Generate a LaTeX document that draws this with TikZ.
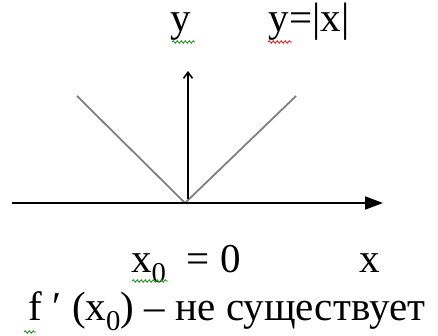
\documentclass[tikz,border=0pt]{standalone}
\usepackage{fontspec}
\setmainfont{Liberation Serif}
\usetikzlibrary{arrows.meta,decorations.pathmorphing}
\definecolor{vgray}{RGB}{128,128,128}
\definecolor{spgreen}{RGB}{40,150,40}
\definecolor{spred}{RGB}{230,40,40}
\tikzset{
  lbl/.style={anchor=base,inner sep=0pt,font=\fontsize{41}{45}\selectfont},
  axis/.style={line width=1.8pt,black},
  vline/.style={line width=1.8pt,vgray},
  squig/.style={line width=0.9pt,decorate,decoration={snake,amplitude=1.2pt,segment length=4pt}}
}
\begin{document}
\begin{tikzpicture}[x=1pt,y=-1pt]
\useasboundingbox (0,0) rectangle (438,336);
% axes
\coordinate (xs) at (12,203);
\coordinate (xe) at (383,203);
\coordinate (ys) at (188,199);
\coordinate (ye) at (188,71);
\coordinate (o) at (185,203);
\coordinate (vl) at (77,96);
\coordinate (vr) at (296,96);
\draw[vline] (vl) -- (o) -- (vr);
\draw[axis,-{Triangle[length=18pt,width=13pt]}] (xs) -- (xe);
\draw[axis,-{Straight Barb[length=6pt,width=9pt,line width=1.6pt]}] (ys) -- (ye);
% labels
\node[lbl] (ylab) at (181,32) {y};
\node[lbl] (flab) at (309,32) {y=|x|};
\node[lbl] (x0lab) at (186,272) {x\textsubscript{0}\ \ = 0};
\node[lbl] (xlab) at (370,272) {x};
\node[lbl] (dlab) at (227,320) {f ′ (x\textsubscript{0}) – не существует};
% spell-check squiggles
\draw[squig,spgreen] (172,42) -- (195,42);
\draw[squig,spred] (268,42) -- (292,42);
\draw[squig,spgreen] (132,281) -- (168,281);
\draw[squig,spgreen] (24,332) -- (36,332);
\end{tikzpicture}
\end{document}
